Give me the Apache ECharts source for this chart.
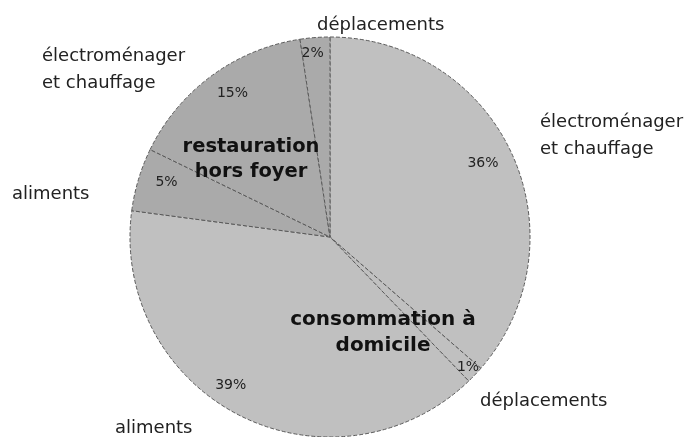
<!DOCTYPE html>
<html>
<head>
<meta charset="utf-8">
<script src="https://cdn.jsdelivr.net/npm/echarts@6/dist/echarts.min.js"></script>
<style>
  html, body { margin: 0; padding: 0; background: #fff; }
  #main { width: 688px; height: 437px; }
</style>
</head>
<body>
<div id="main"></div>
<script>
// parts of the budget, clockwise from 12 o'clock
var categories = ['électroménager\net chauffage', 'déplacements', 'aliments',
                  'aliments', 'électroménager\net chauffage', 'déplacements'];
var shares = [36.4, 1.4, 39.3, 5.1, 15.4, 2.4];
var groups = ['domicile', 'domicile', 'domicile', 'foyer', 'foyer', 'foyer'];
var groupColors = { domicile: '#c0c0c0', foyer: '#aaaaaa' };

// where the category names sit, and small nudges for the % labels
var namePos = [[540, 136], [480, 401], [115, 428], [12, 194], [42, 70], [317, 25]];
var pctNudge = [[-9, 0], [9, 8], [-19, -10], [7, -3], [8, 0], [-4, -6]];

var dom = document.getElementById('main');
var myChart = echarts.init(dom);

var pieData = [];
for (var i = 0; i < shares.length; i++) {
    pieData.push({
        value: shares[i],
        name: categories[i],
        itemStyle: { color: groupColors[groups[i]] }
    });
}

var option = {
    backgroundColor: '#fff',
    animation: false,
    series: [
        {
            type: 'pie',
            center: [330, 237],
            radius: 200,
            startAngle: 90,
            clockwise: true,
            avoidLabelOverlap: false,
            silent: true,
            itemStyle: {
                borderColor: '#5a5a5a',
                borderWidth: 1,
                borderType: 'dashed'
            },
            label: {
                show: true,
                position: 'outside',
                color: '#222',
                fontFamily: 'DejaVu Sans',
                fontSize: 18,
                lineHeight: 27,
                formatter: '{b}'
            },
            labelLine: { show: false },
            labelLayout: function (params) {
                var p = namePos[params.dataIndex];
                return { x: p[0], y: p[1], align: 'left', verticalAlign: 'middle' };
            },
            data: pieData
        },
        {
            type: 'pie',
            center: [330, 237],
            radius: [150, 200],
            startAngle: 90,
            clockwise: true,
            silent: true,
            itemStyle: { color: 'transparent', borderWidth: 0 },
            label: {
                show: true,
                position: 'inside',
                color: '#222',
                fontFamily: 'DejaVu Sans',
                fontSize: 14,
                formatter: function (p) { return Math.round(p.value) + '%'; }
            },
            labelLine: { show: false },
            labelLayout: function (params) {
                var n = pctNudge[params.dataIndex];
                return { dx: n[0], dy: n[1] };
            },
            data: shares.map(function (v) { return { value: v }; })
        }
    ],
    graphic: [
        {
            type: 'text',
            z: 100,
            x: 251,
            y: 159,
            style: {
                text: 'restauration\nhors foyer',
                font: 'bold 19.5px "DejaVu Sans"',
                fill: '#111',
                align: 'center',
                verticalAlign: 'middle',
                lineHeight: 25
            }
        },
        {
            type: 'text',
            z: 100,
            x: 383,
            y: 333,
            style: {
                text: 'consommation à\ndomicile',
                font: 'bold 20px "DejaVu Sans"',
                fill: '#111',
                align: 'center',
                verticalAlign: 'middle',
                lineHeight: 26
            }
        }
    ]
};

if (option && typeof option === 'object') {
    myChart.setOption(option, true);
}
</script>
</body>
</html>
